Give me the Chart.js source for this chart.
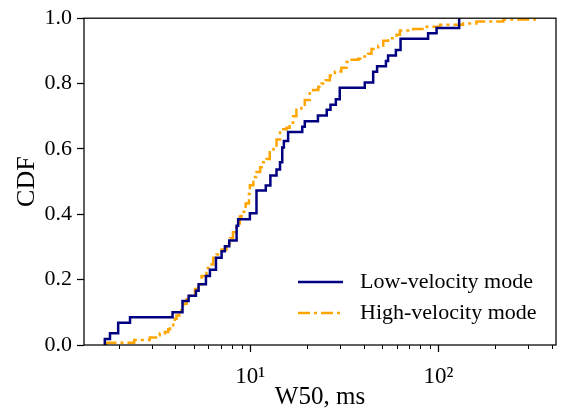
<!DOCTYPE html>
<html>
<head>
<meta charset="utf-8">
<script src="https://cdn.jsdelivr.net/npm/chart.js@4"></script>
<style>
  body { margin: 0; background: #fff; }
  #wrap { position: relative; width: 577px; height: 412px; }
</style>
</head>
<body>
<div id="wrap"><canvas id="cdf-chart"></canvas></div>
<script>
const seriesNames = ['Low-velocity mode', 'High-velocity mode'];

const lowW50 = [1.69, 1.69, 1.80, 1.99, 2.30, 3.87, 4.37, 4.71, 5.15, 5.32,
    5.82, 6.11, 6.58, 7.05, 7.34, 7.74, 8.47, 8.63, 9.96, 10.8,
    12.1, 12.8, 13.8, 14.4, 14.8, 15.1, 15.9, 18.9, 19.5, 22.9,
    25.5, 26.7, 28.5, 29.9, 40.6, 45.0, 47.2, 52.6, 54.0, 59.4,
    62.9, 88.1, 97.7, 128.8];
const lowCdf = [0, 0.018, 0.036, 0.068, 0.085, 0.10, 0.135, 0.151, 0.166, 0.186,
    0.211, 0.23, 0.267, 0.287, 0.302, 0.32, 0.365, 0.385, 0.403, 0.473,
    0.488, 0.519, 0.537, 0.559, 0.604, 0.624, 0.652, 0.668, 0.685, 0.702,
    0.72, 0.735, 0.752, 0.787, 0.803, 0.836, 0.853, 0.869, 0.886, 0.903,
    0.937, 0.954, 0.970, 1.0];

const highW50 = [1.73, 1.73, 2.42, 2.93, 3.16, 3.31, 3.52, 3.67, 3.75, 3.90,
    3.98, 4.06, 4.20, 4.41, 4.60, 4.79, 5.09, 5.29, 5.52, 5.86,
    6.11, 6.36, 6.62, 7.05, 7.49, 7.80, 8.10, 8.47, 8.81, 9.00,
    9.46, 9.85, 9.96, 10.4, 10.8, 11.3, 11.7, 12.2, 12.7, 13.3,
    13.8, 14.4, 15.0, 15.6, 16.2, 16.9, 17.6, 18.7, 19.5, 20.7,
    21.6, 23.0, 23.9, 25.2, 26.5, 28.2, 30.5, 32.5, 33.8, 37.5,
    39.8, 42.3, 44.1, 47.9, 50.9, 54.0, 59.9, 62.4, 73.4, 84.7,
    102, 135, 159, 221, 325];
const highCdf = [0, 0.007, 0.015, 0.023, 0.03, 0.035, 0.04, 0.048, 0.055, 0.07,
    0.08, 0.09, 0.106, 0.126, 0.14, 0.151, 0.171, 0.186, 0.211, 0.236,
    0.246, 0.267, 0.277, 0.292, 0.312, 0.327, 0.345, 0.372, 0.393, 0.408,
    0.433, 0.463, 0.489, 0.514, 0.529, 0.544, 0.559, 0.569, 0.594, 0.604,
    0.629, 0.65, 0.66, 0.665, 0.68, 0.70, 0.72, 0.735, 0.75, 0.77,
    0.78, 0.79, 0.80, 0.81, 0.825, 0.837, 0.848, 0.866, 0.873, 0.876,
    0.883, 0.891, 0.906, 0.916, 0.931, 0.939, 0.949, 0.962, 0.967, 0.974,
    0.98, 0.984, 0.99, 0.996, 1.0];

const yTicks = [0, 0.2, 0.4, 0.6, 0.8, 1.0];
const xMajorTicks = [10, 100];
const xMinorTicks = [2, 3, 4, 5, 6, 7, 8, 9, 20, 30, 40, 50, 60, 70, 80, 90, 200, 300, 400];
const xMajorLabels = { 10: '10\u00B9', 100: '10\u00B2' };

const SERIF = "'Liberation Serif', 'Times New Roman', serif";
Chart.defaults.font.family = SERIF;
Chart.defaults.color = '#000';

const toPoints = (xs, ys) => xs.map((x, i) => ({ x: x, y: ys[i] }));

// frame on all four sides, minor x ticks, and the in-axes legend
const frameAndLegend = {
    id: 'frameAndLegend',
    afterDatasetsDraw(chart) {
        const { ctx, chartArea: a, scales } = chart;
        ctx.save();
        ctx.strokeStyle = '#000';
        ctx.lineWidth = 1.25;
        ctx.setLineDash([]);
        ctx.strokeRect(a.left, a.top, a.right - a.left, a.bottom - a.top);

        ctx.lineWidth = 1;
        xMinorTicks.forEach(v => {
            const px = Math.round(scales.x.getPixelForValue(v)) + 0.5;
            ctx.beginPath();
            ctx.moveTo(px, a.bottom);
            ctx.lineTo(px, a.bottom + 4);
            ctx.stroke();
        });

        chart.data.datasets.forEach((ds, i) => {
            const y = a.bottom - 63 + i * 31;
            ctx.strokeStyle = ds.borderColor;
            ctx.lineWidth = ds.borderWidth;
            ctx.setLineDash(ds.borderDash || []);
            ctx.beginPath();
            ctx.moveTo(a.right - 258, y);
            ctx.lineTo(a.right - 213, y);
            ctx.stroke();
            ctx.setLineDash([]);
            ctx.fillStyle = '#000';
            ctx.font = '22px ' + SERIF;
            ctx.textBaseline = 'middle';
            ctx.textAlign = 'left';
            ctx.fillText(ds.label, a.right - 196, y);
        });
        ctx.restore();
    }
};

const ctx = document.getElementById('cdf-chart').getContext('2d');
new Chart(ctx, {
    type: 'line',
    data: {
        datasets: [{
            label: seriesNames[0],
            data: toPoints(lowW50, lowCdf),
            borderColor: '#000080',
            borderWidth: 2.5,
            stepped: 'before',
            pointRadius: 0,
            fill: false,
        }, {
            label: seriesNames[1],
            data: toPoints(highW50, highCdf),
            borderColor: '#FFA500',
            borderWidth: 2.5,
            borderDash: [12, 4, 3, 4],
            stepped: 'before',
            pointRadius: 0,
            fill: false,
        }]
    },
    options: {
        responsive: true,
        maintainAspectRatio: false,
        animation: false,
        layout: { padding: { top: 14, right: 21, left: 0, bottom: 0 } },
        plugins: {
            legend: { display: false },
            tooltip: { enabled: false }
        },
        scales: {
            x: {
                type: 'logarithmic',
                min: 1.31,
                max: 421,
                afterBuildTicks: s => { s.ticks = xMajorTicks.map(v => ({ value: v })); },
                afterFit: s => { s.height = 67; },
                grid: { drawOnChartArea: false, tickLength: 7, tickWidth: 1.25, tickColor: '#000' },
                border: { display: false },
                ticks: {
                    font: { size: 23 },
                    color: '#000',
                    padding: 11,
                    maxRotation: 0,
                    autoSkip: false,
                    callback: v => xMajorLabels[v] || ''
                },
                title: {
                    display: true,
                    text: 'W50, ms',
                    font: { size: 25 },
                    color: '#000',
                    padding: { top: 0, bottom: 0 }
                }
            },
            y: {
                min: 0,
                max: 1,
                afterBuildTicks: s => { s.ticks = yTicks.map(v => ({ value: v })); },
                afterFit: s => { s.width = 84; },
                grid: { drawOnChartArea: false, tickLength: 7, tickWidth: 1.25, tickColor: '#000' },
                border: { display: false },
                ticks: {
                    font: { size: 22 },
                    color: '#000',
                    padding: 5,
                    callback: v => v.toFixed(1)
                },
                title: {
                    display: true,
                    text: 'CDF',
                    font: { size: 26 },
                    color: '#000',
                    padding: { top: 12, bottom: 0 }
                }
            }
        }
    },
    plugins: [frameAndLegend]
});
</script>
</body>
</html>
